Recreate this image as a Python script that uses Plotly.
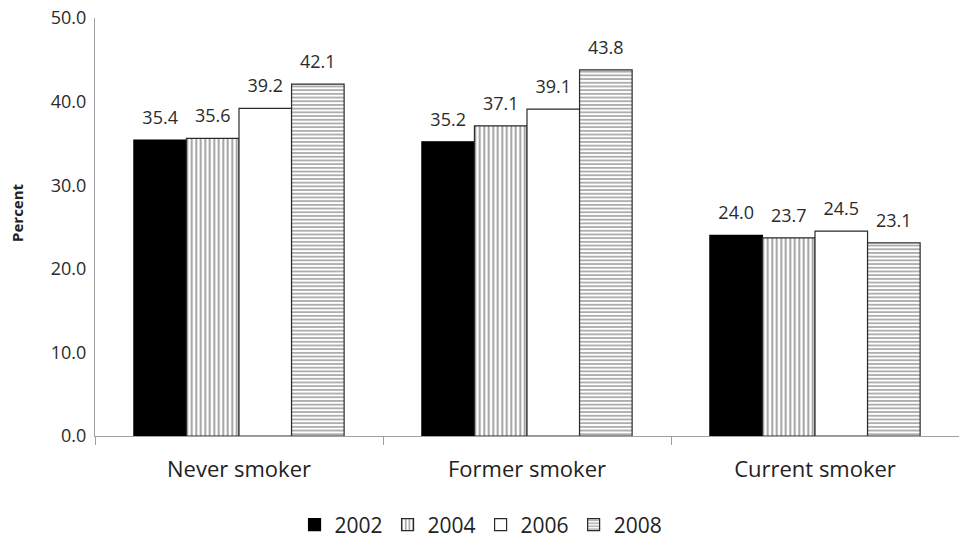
import plotly.graph_objects as go

categories = ["Never smoker", "Former smoker", "Current smoker"]
years = ["2002", "2004", "2006", "2008"]
v2002 = [35.4, 35.2, 24.0]
v2004 = [35.6, 37.1, 23.7]
v2006 = [39.2, 39.1, 24.5]
v2008 = [42.1, 43.8, 23.1]
y_ticks = [0, 10, 20, 30, 40, 50]

series = [v2002, v2004, v2006, v2008]
styles = [
    dict(color="black", line="black", pattern=dict(shape="")),
    dict(color="white", line="#2a2a2a", pattern=dict(shape="|", fgcolor="#333", bgcolor="white", size=4.5, solidity=0.4, fillmode="overlay")),
    dict(color="white", line="#2a2a2a", pattern=dict(shape="")),
    dict(color="white", line="#2a2a2a", pattern=dict(shape="-", fgcolor="#333", bgcolor="white", size=3.7, solidity=0.4, fillmode="overlay")),
]

FONT = "Open Sans"
fig = go.Figure()
for name, vals, st in zip(years, series, styles):
    fig.add_trace(go.Bar(
        x=categories, y=vals, name=name,
        marker=dict(color=st["color"], pattern=st["pattern"],
                    line=dict(color=st["line"], width=1.2)),
    ))
for name, vals in zip(years, series):
    fig.add_trace(go.Scatter(
        x=categories, y=vals, mode="markers+text", showlegend=False,
        marker=dict(size=17, opacity=0), hoverinfo="skip",
        text=[f"{v:.1f}" for v in vals], textposition="top center",
        textfont=dict(size=18, color="#2b2b2b", family=FONT),
        cliponaxis=False,
    ))

fig.update_layout(
    width=959, height=540,
    barmode="group", bargap=0.27, bargroupgap=0,
    scattermode="group", scattergap=0.27,
    plot_bgcolor="white", paper_bgcolor="white",
    margin=dict(l=95, r=0, t=18, b=104, autoexpand=False),
    font=dict(family=FONT, color="#2b2b2b"),
    showlegend=True,
    legend=dict(orientation="h", xref="container", yref="container",
                x=0.5016, xanchor="center", y=0.0278, yanchor="middle",
                font=dict(size=21, color="#222"), itemwidth=30,
                traceorder="normal"),
    yaxis=dict(range=[0, 50], tickvals=y_ticks, tickformat=".1f",
               showgrid=False, showline=True, linecolor="#a0a0a0", linewidth=1,
               ticks="", ticklabelstandoff=4, ticklabeloverflow="allow",
               tickfont=dict(size=18, color="#2b2b2b"),
               zeroline=False),
    xaxis=dict(showline=True, linecolor="#a0a0a0", linewidth=1,
               ticks="outside", ticklen=8, tickcolor="#a0a0a0", tickson="boundaries",
               ticklabelstandoff=14,
               tickfont=dict(size=22, color="#222")),
    annotations=[dict(text="<b>Percent</b>", textangle=-90, xref="paper", yref="paper",
                      x=-0.0903, y=0.536, xanchor="center", yanchor="middle",
                      showarrow=False, font=dict(size=15, color="#222", family=FONT))],
)

fig.write_html("out.html", config={"displayModeBar": False},
               post_script="document.body.style.margin='0';document.body.style.overflow='hidden';")
